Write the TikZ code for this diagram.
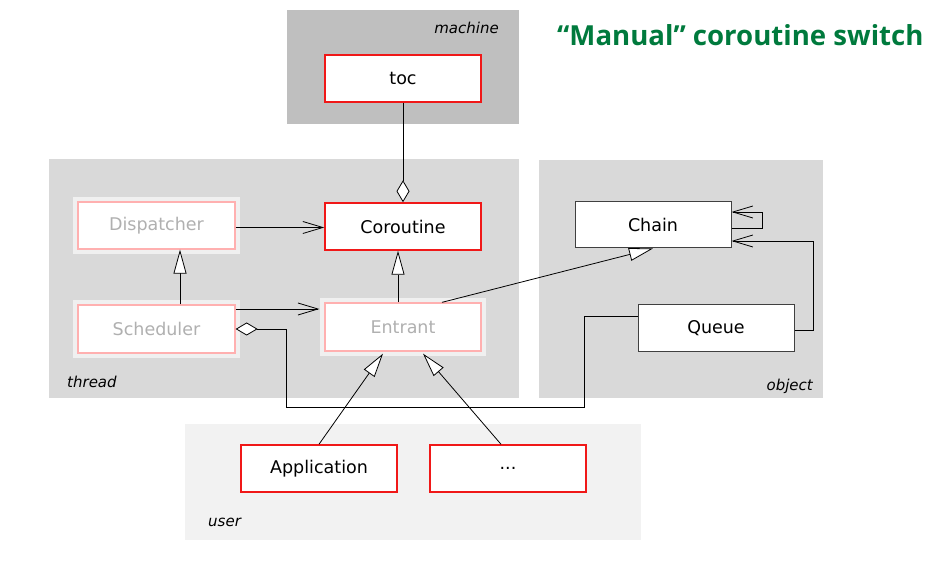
\documentclass[tikz,border=0pt]{standalone}
\usepackage{fontspec}
\setmainfont{DejaVu Sans}
\newfontfamily\titlefont{Open Sans}
\usetikzlibrary{arrows.meta}
\definecolor{grpA}{HTML}{BFBFBF}
\definecolor{grpB}{HTML}{D9D9D9}
\definecolor{grpC}{HTML}{F2F2F2}
\definecolor{boxred}{HTML}{F01818}
\definecolor{pink}{HTML}{FFB0B0}
\definecolor{halo}{HTML}{F0F0F0}
\definecolor{paletext}{HTML}{B0B0B0}
\definecolor{darkedge}{HTML}{404040}
\definecolor{titlegreen}{HTML}{007A3D}
\tikzset{
  grp/.style={inner sep=0pt, draw=none},
  basebox/.style={rectangle, fill=white, minimum width=156, minimum height=47, inner sep=0pt,
    font=\fontsize{17.5}{20}\selectfont},
  redbox/.style={basebox, draw=boxred, line width=1.5pt},
  palebox/.style={basebox, draw=pink, line width=1.3pt, text=paletext,
    preaction={draw=halo, line width=10pt}},
  objbox/.style={basebox, draw=darkedge, line width=1pt},
  grplabel/.style={font=\fontsize{15}{18}\selectfont\itshape, inner sep=0pt},
  conn/.style={draw=black, line width=0.8pt},
  inherit/.style={conn, -{Triangle[open, length=24pt, width=13pt, fill=white]}},
  assoc/.style={conn, -{Straight Barb[length=20pt, width=12pt]}},
  aggr/.style={conn, {Diamond[open, length=22pt, width=13pt, fill=white]}-},
  aggrend/.style={conn, -{Diamond[open, length=22pt, width=13pt, fill=white]}},
}
\begin{document}
\begin{tikzpicture}[x=1pt, y=-1pt]
\useasboundingbox (0,0) rectangle (940,577);
% groups
\fill[grpA] (287,10) rectangle (519,124);
\fill[grpB] (49,159) rectangle (519,398);
\fill[grpB] (539,160) rectangle (823,398);
\fill[grpC] (185,424) rectangle (641,540);
\node[grplabel, anchor=base east] (lmachine) at (499,34) {machine};
\node[grplabel, anchor=base west] (lthread) at (67,388) {thread};
\node[grplabel, anchor=base east] (lobject) at (813,390) {object};
\node[grplabel, anchor=base west] (luser) at (208,526) {user};
% title
\node[anchor=base west, inner sep=0pt, text=titlegreen, font=\titlefont\bfseries\fontsize{27.6}{32}\selectfont] (title) at (557,46) {“Manual” coroutine switch};
% boxes
\node[redbox] (toc) at (403,78.5) {toc};
\node[redbox] (cor) at (403,226.5) {Coroutine};
\node[palebox, minimum width=157] (disp) at (156.5,225.5) {Dispatcher};
\node[palebox, minimum width=157, minimum height=48] (sched) at (156.5,329) {Scheduler};
\node[palebox, minimum height=48] (entr) at (403,327) {Entrant};
\node[objbox, minimum height=46] (chain) at (653,225) {Chain};
\node[objbox] (queue) at (716,328.5) {Queue};
\node[redbox] (app) at (319,468.5) {Application};
\node[redbox] (dots) at (508,468.5) {...};
% connectors
\draw[aggrend] (toc.south) -- (cor.north);
\draw[assoc] ([yshift=-2pt]disp.east) -- ([yshift=-2pt]disp.east -| cor.west);
\draw[inherit] ([xshift=23.5pt]sched.north) -- ([xshift=23.5pt]sched.north |- disp.south);
\draw[assoc] ([yshift=20pt]sched.east) -- ([yshift=20pt,xshift=-5pt]sched.east -| entr.west);
\draw[inherit] ([xshift=-5pt]entr.north) -- ([xshift=-5pt]cor.south);
\draw[inherit] ([xshift=39pt]entr.north) -- (chain.south);
\coordinate (b1) at (286,407);
\coordinate (b2) at (584,407);
\draw[aggr] (sched.east) -| (b1) -- (b2) |- ([yshift=12.5pt]queue.west);
\coordinate (loop) at (762,212);
\draw[assoc] ([yshift=-3pt]chain.east) -| (loop) -- ([yshift=13pt]chain.east);
\coordinate (qc) at (813,241);
\draw[assoc] ([yshift=-1.5pt]queue.east) -| (qc) -- ([yshift=-16pt]chain.east);
\draw[inherit] (app.north) -- ([xshift=-20pt,yshift=-2pt]entr.south);
\draw[inherit] ([xshift=-7pt]dots.north) -- ([xshift=20pt,yshift=-2pt]entr.south);
\end{tikzpicture}
\end{document}
